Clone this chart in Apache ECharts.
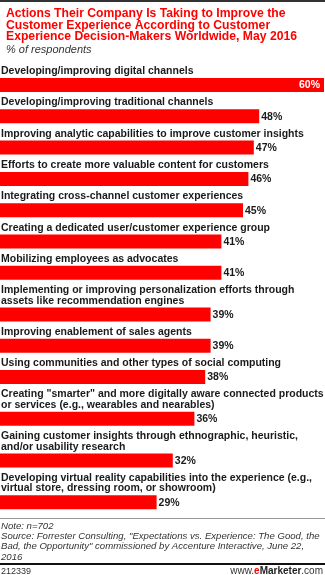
<!DOCTYPE html>
<html>
<head>
<meta charset="utf-8">
<script src="https://cdn.jsdelivr.net/npm/echarts@6/dist/echarts.min.js"></script>
<style>
html,body{margin:0;padding:0;background:#fff;}
#chart{width:325px;height:575px;}
</style>
</head>
<body>
<div id="chart"></div>
<script>
var categories = [
  "Developing/improving digital channels",
  "Developing/improving traditional channels",
  "Improving analytic capabilities to improve customer insights",
  "Efforts to create more valuable content for customers",
  "Integrating cross-channel customer experiences",
  "Creating a dedicated user/customer experience group",
  "Mobilizing employees as advocates",
  "Implementing or improving personalization efforts through\nassets like recommendation engines",
  "Improving enablement of sales agents",
  "Using communities and other types of social computing",
  "Creating \"smarter\" and more digitally aware connected products\nor services (e.g., wearables and nearables)",
  "Gaining customer insights through ethnographic, heuristic,\nand/or usability research",
  "Developing virtual reality capabilities into the experience (e.g.,\nvirtual store, dressing room, or showroom)"
];
var values = [60, 48, 47, 46, 45, 41, 41, 39, 39, 38, 36, 32, 29];

var titleText = "Actions Their Company Is Taking to Improve the\nCustomer Experience According to Customer\nExperience Decision-Makers Worldwide, May 2016";
var subtitleText = "% of respondents";
var noteText = "Note: n=702\nSource: Forrester Consulting, \"Expectations vs. Experience: The Good, the\nBad, the Opportunity\" commissioned by Accenture Interactive, June 22,\n2016";
var chartId = "212339";

// layout: each item takes (label lines + 2) row units
var LINE = 10.43;
var FONT = '"Liberation Sans", Arial, sans-serif';
var rows = [];
var start = 0;
for (var i = 0; i < categories.length; i++) {
  var n = categories[i].split("\n").length;
  rows.push([values[i], start, n, i]);
  start += n + 2;
}
var totalUnits = start;
var gridTop = 67.6;

var chart = echarts.init(document.getElementById('chart'), null, {renderer: 'canvas'});

function renderItem(params, api) {
  var v = api.value(0), s = api.value(1), n = api.value(2), idx = api.value(3);
  var p0 = api.coord([0, s + n]);
  var p1 = api.coord([v, s + n]);
  var barH = 14;
  var children = [];
  children.push({
    type: 'rect',
    shape: {x: p0[0], y: p0[1], width: p1[0] - p0[0], height: barH},
    style: {fill: '#ff0000'}
  });
  var lines = categories[idx].split("\n");
  for (var k = 0; k < lines.length; k++) {
    var ly = api.coord([0, s + k])[1] + 3.6;
    children.push({
      type: 'text',
      style: {
        x: p0[0] + 1, y: ly, text: lines[k],
        fill: '#1a1a1a', font: 'bold 10.5px ' + FONT,
        align: 'left', verticalAlign: 'middle'
      }
    });
  }
  var inside = idx === 0;
  children.push({
    type: 'text',
    style: {
      x: inside ? p1[0] - 4 : p1[0] + 2,
      y: p0[1] + barH / 2 + 0.5,
      text: v + '%',
      fill: inside ? '#ffffff' : '#1a1a1a',
      font: 'bold 10.5px ' + FONT,
      align: inside ? 'right' : 'left',
      verticalAlign: 'middle'
    }
  });
  return {type: 'group', children: children};
}

var option = {
  backgroundColor: '#ffffff',
  animation: false,
  title: {
    text: titleText,
    subtext: subtitleText,
    left: 1,
    top: 3,
    itemGap: 1,
    textStyle: {fontFamily: FONT, fontSize: 12.2, fontWeight: 'bold', color: '#ff0000', lineHeight: 11.6},
    subtextStyle: {fontFamily: FONT, fontSize: 11, fontStyle: 'italic', color: '#333333', lineHeight: 12}
  },
  grid: {left: 0, right: 1, top: gridTop, height: totalUnits * LINE, containLabel: false},
  xAxis: {type: 'value', min: 0, max: 60, show: false},
  yAxis: {type: 'value', min: 0, max: totalUnits, inverse: true, show: false},
  series: [{
    type: 'custom',
    renderItem: renderItem,
    encode: {x: 0, y: 1},
    data: rows,
    clip: false
  }],
  graphic: [
    {type: 'rect', left: 0, top: 0, shape: {width: 325, height: 2}, style: {fill: '#333333'}},
    {type: 'rect', left: 0, top: 518, shape: {width: 325, height: 1}, style: {fill: '#999999'}},
    {type: 'text', left: 1, top: 521, style: {text: noteText, font: 'italic 9.6px ' + FONT, fill: '#333333', lineHeight: 10.3}},
    {type: 'rect', left: 0, top: 563, shape: {width: 325, height: 2}, style: {fill: '#111111'}},
    {type: 'text', left: 1, top: 567, style: {text: chartId, font: '9px ' + FONT, fill: '#333333'}},
    {type: 'text', right: 2, top: 566, style: {
      text: '{a|www.}{e|e}{m|Marketer}{a|.com}',
      rich: {
        a: {font: '10px ' + FONT, fill: '#333333'},
        e: {font: 'bold 10px ' + FONT, fill: '#ff0000'},
        m: {font: 'bold 10px ' + FONT, fill: '#222222'}
      }
    }}
  ]
};
chart.setOption(option);
</script>
</body>
</html>
